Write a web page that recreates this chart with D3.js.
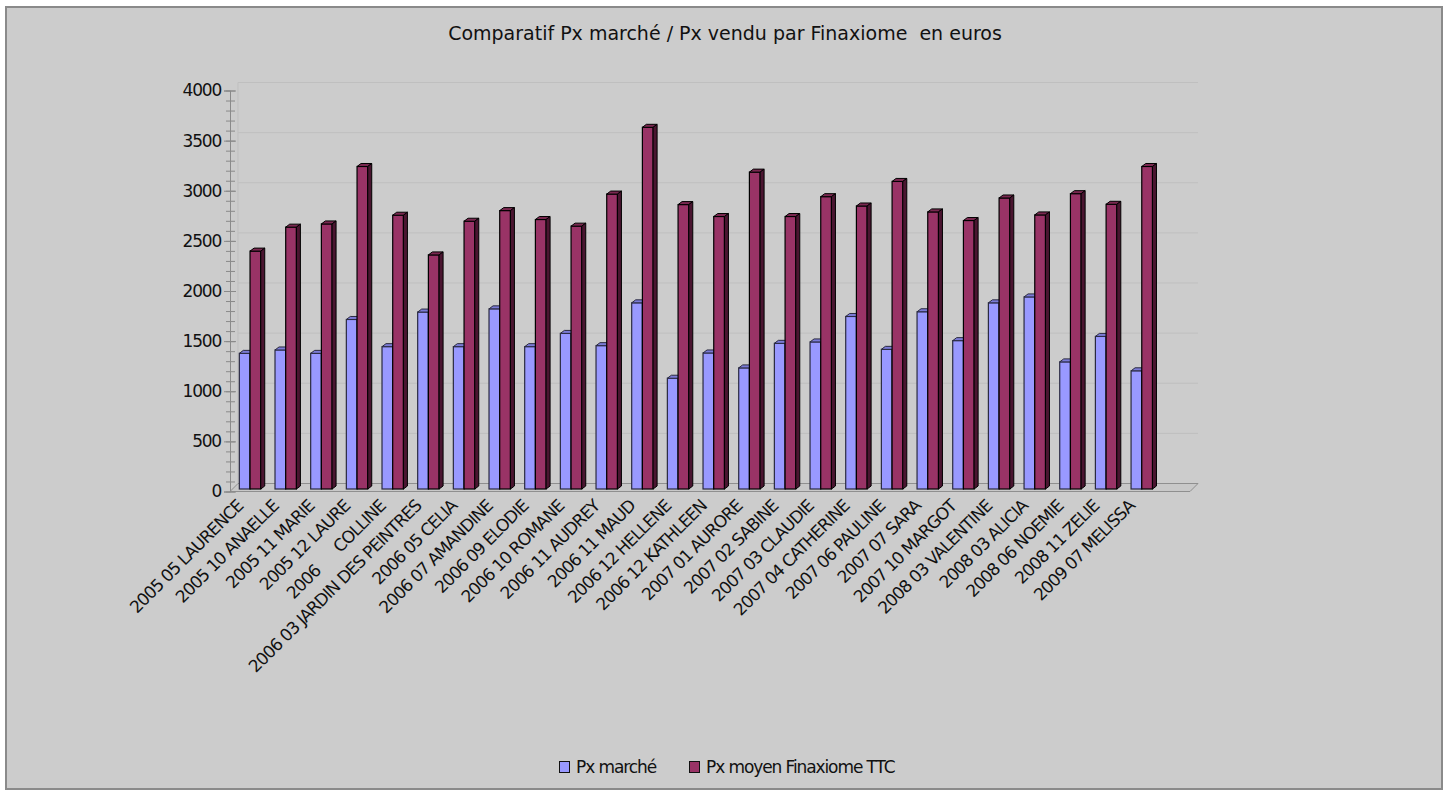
<!DOCTYPE html>
<html>
<head>
<meta charset="utf-8">
<script src="https://cdn.jsdelivr.net/npm/d3@7"></script>
<style>
  body { margin: 0; background: #fff; }
  text { font-family: "DejaVu Sans", sans-serif; fill: #111; }
</style>
</head>
<body>
<div id="chart"></div>
<script>
const WIDTH  = 1449;
const HEIGHT = 791;

// chart data
var categories = [
    "2005 05 LAURENCE", "2005 10 ANAELLE", "2005 11 MARIE", "2005 12 LAURE",
    "2006      COLLINE", "2006 03 JARDIN DES PEINTRES", "2006 05 CELIA",
    "2006 07 AMANDINE", "2006 09 ELODIE", "2006 10 ROMANE", "2006 11 AUDREY",
    "2006 11 MAUD", "2006 12 HELLENE", "2006 12 KATHLEEN", "2007 01 AURORE",
    "2007 02 SABINE", "2007 03 CLAUDIE", "2007 04 CATHERINE", "2007 06 PAULINE",
    "2007 07 SARA", "2007 10 MARGOT", "2008 03 VALENTINE", "2008 03 ALICIA",
    "2008 06 NOEMIE", "2008 11 ZELIE", "2009 07 MELISSA"
];
var pxMarche = [1353, 1387, 1353, 1691, 1420, 1765, 1420, 1797, 1420, 1552, 1430, 1857, 1105,
                1357, 1208, 1453, 1467, 1721, 1393, 1768, 1480, 1857, 1916, 1268, 1522, 1179];
var pxMoyen  = [2373, 2612, 2644, 3217, 2731, 2335, 2671, 2777, 2688, 2622, 2942, 3608, 2837,
                2718, 3161, 2718, 2916, 2823, 3068, 2764, 2678, 2903, 2734, 2946, 2840, 3217];
var yTicks   = [0, 500, 1000, 1500, 2000, 2500, 3000, 3500, 4000];
var seriesNames = ["Px marché", "Px moyen Finaxiome TTC"];
var titleText = "Comparatif Px marché / Px vendu par Finaxiome  en euros";

const FRONT_X = 230, FRONT_BASE = 491.5, PLOT_H = 401;
const WALL_D  = 8;       // depth of the floor / back wall
const BAR_OFF = 2.5;     // bars sit a bit behind the front edge
const FLOOR_END = 1190;
const BAR_DX = 4, BAR_DY = 3;

var colors = {
    blue: { face: "#9999ff", top: "#7b7bd6", side: "#5c5cb0", stroke: "#2a2a40" },
    red:  { face: "#993366", top: "#7a2850", side: "#4a1530", stroke: "#000" }
};

var svg = d3.select("#chart")
            .append("svg")
            .attr("width", WIDTH)
            .attr("height", HEIGHT);

svg.append("rect")
   .attr("x", 6).attr("y", 7)
   .attr("width", 1436).attr("height", 782)
   .attr("fill", "#cccccc")
   .attr("stroke", "#8a8a8a")
   .attr("stroke-width", 2);

var yVal = d3.scaleLinear().domain([0, 4000]).range([0, PLOT_H]);
var yBack  = v => FRONT_BASE - WALL_D - yVal(v);
var yBar   = v => FRONT_BASE - BAR_OFF - yVal(v);

var x = d3.scaleBand()
          .domain(categories)
          .range([232.2, 1159.6])
          .paddingInner(0.4)
          .paddingOuter(0.2);
var sub = d3.scaleBand()
            .domain(["blue", "red"])
            .range([0, x.bandwidth()]);

// back wall grid lines
svg.append("g")
   .selectAll("line")
   .data(yTicks)
   .enter()
   .append("line")
   .attr("x1", FRONT_X + WALL_D)
   .attr("x2", FLOOR_END + WALL_D)
   .attr("y1", d => yBack(d))
   .attr("y2", d => yBack(d))
   .attr("stroke", d => d === 0 ? "#9a9a9a" : "#bfbfbf")
   .attr("stroke-width", 1);

svg.append("line")
   .attr("x1", FRONT_X + WALL_D).attr("x2", FRONT_X + WALL_D)
   .attr("y1", yBack(4000)).attr("y2", yBack(0))
   .attr("stroke", "#bfbfbf");

// floor
svg.append("path")
   .attr("d", "M" + FRONT_X + "," + FRONT_BASE +
              "L" + (FRONT_X + WALL_D) + "," + (FRONT_BASE - WALL_D) +
              "L" + (FLOOR_END + WALL_D) + "," + (FRONT_BASE - WALL_D) +
              "L" + FLOOR_END + "," + FRONT_BASE + "Z")
   .attr("fill", "#c8c8c8")
   .attr("stroke", "#8f8f8f")
   .attr("stroke-width", 1);

// y axis with minor ticks
var yAxisScale = d3.scaleLinear().domain([0, 4000]).range([FRONT_BASE, FRONT_BASE - PLOT_H]);
var minor = svg.append("g")
   .attr("transform", "translate(" + FRONT_X + ",0)")
   .call(d3.axisLeft(yAxisScale).ticks(40).tickSize(-5).tickFormat(""));
minor.selectAll("line").attr("x1", -4).attr("stroke", "#8a8a8a");
minor.select(".domain").remove();

var yAxis = svg.append("g")
   .attr("transform", "translate(" + FRONT_X + ",0)")
   .call(d3.axisLeft(yAxisScale).tickValues(yTicks).tickFormat(d3.format("d"))
           .tickSize(6).tickPadding(3));
yAxis.select(".domain").attr("stroke", "#8a8a8a");
yAxis.selectAll("line").attr("x2", 6).attr("x1", -6).attr("stroke", "#8a8a8a");
yAxis.selectAll("text")
     .style("font-family", "DejaVu Sans")
     .style("font-size", "17px")
     .style("letter-spacing", "-1.2px")
     .attr("fill", "#111");

// 3D bars
function drawBar(g, x0, w, v, c) {
    var top = yBar(v), base = yBar(0);
    g.append("rect")
     .attr("x", x0).attr("y", top)
     .attr("width", w).attr("height", base - top)
     .attr("fill", c.face).attr("stroke", c.stroke).attr("stroke-width", 1.2);
    g.append("path")
     .attr("d", "M" + x0 + "," + top + "L" + (x0 + BAR_DX) + "," + (top - BAR_DY) +
                "L" + (x0 + w + BAR_DX) + "," + (top - BAR_DY) + "L" + (x0 + w) + "," + top + "Z")
     .attr("fill", c.top).attr("stroke", c.stroke).attr("stroke-width", 1);
    g.append("path")
     .attr("d", "M" + (x0 + w) + "," + top + "L" + (x0 + w + BAR_DX) + "," + (top - BAR_DY) +
                "L" + (x0 + w + BAR_DX) + "," + (base - BAR_DY) + "L" + (x0 + w) + "," + base + "Z")
     .attr("fill", c.side).attr("stroke", c.stroke).attr("stroke-width", 1);
}

var bars = svg.append("g");
categories.forEach(function(cat, i) {
    var g = bars.append("g");
    drawBar(g, x(cat) + sub("blue"), sub.bandwidth(), pxMarche[i], colors.blue);
    drawBar(g, x(cat) + sub("red"), sub.bandwidth(), pxMoyen[i], colors.red);
});

// category labels
svg.append("g")
   .selectAll("text")
   .data(categories)
   .enter()
   .append("text")
   .attr("transform", d => "translate(" + (x(d) + x.bandwidth() / 2 - 6) + ",507) rotate(-45)")
   .attr("text-anchor", "end")
   .style("font-size", "17px")
   .style("letter-spacing", "-1px")
   .style("white-space", "pre")
   .text(d => d);

// title
svg.append("text")
   .attr("x", 725).attr("y", 40)
   .attr("text-anchor", "middle")
   .style("font-size", "19px")
   .style("white-space", "pre")
   .text(titleText);

// legend
var legend = svg.append("g").attr("transform", "translate(559,761)");
var legendX = [0, 130];
[colors.blue, colors.red].forEach(function(c, i) {
    legend.append("rect")
          .attr("x", legendX[i] + 0.5).attr("y", 0.5)
          .attr("width", 10).attr("height", 11)
          .attr("fill", c.face).attr("stroke", "#111");
    legend.append("text")
          .attr("x", legendX[i] + 17).attr("y", 12)
          .style("font-size", "17px")
          .style("letter-spacing", "-1.1px")
          .text(seriesNames[i]);
});
</script>
</body>
</html>
